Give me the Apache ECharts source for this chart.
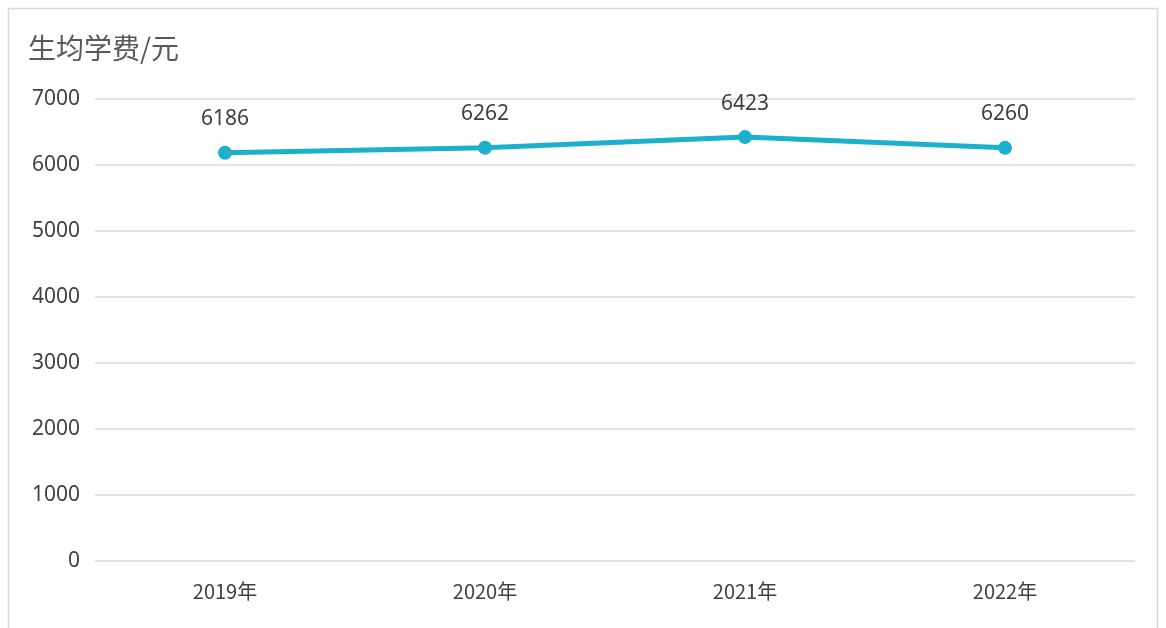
<!DOCTYPE html>
<html>
<head>
<meta charset="utf-8">
<script src="https://cdn.jsdelivr.net/npm/echarts@6/dist/echarts.min.js"></script>
<style>
  html, body { margin: 0; padding: 0; background: #ffffff; }
  #chart { width: 1166px; height: 628px; }
</style>
</head>
<body>
<div id="chart"></div>
<script>
// Per-student tuition by year
const titleText = '生均学费/元';
const years = ['2019年', '2020年', '2021年', '2022年'];
const tuition = [6186, 6262, 6423, 6260];
const yTicks = [0, 1000, 2000, 3000, 4000, 5000, 6000, 7000];

const chart = echarts.init(document.getElementById('chart'), null, { renderer: 'canvas' });

chart.setOption({
  backgroundColor: '#ffffff',
  animation: false,
  title: {
    text: titleText,
    left: 23,
    top: 29,
    textStyle: {
      fontFamily: '"Noto Sans CJK SC", sans-serif',
      fontSize: 28,
      fontWeight: 'normal',
      color: '#595959'
    }
  },
  graphic: [{
    type: 'rect',
    shape: { x: 8.5, y: 8.5, width: 1149, height: 640 },
    style: { fill: 'none', stroke: '#d9d9d9', lineWidth: 1.5 },
    silent: true
  }],
  grid: { left: 95, right: 31, top: 99, bottom: 67 },
  xAxis: {
    type: 'category',
    data: years,
    boundaryGap: true,
    axisLine: { show: false },
    axisTick: { show: false },
    axisLabel: {
      margin: 20,
      fontFamily: '"Noto Sans CJK SC", sans-serif',
      fontSize: 20,
      color: '#404040'
    }
  },
  yAxis: {
    type: 'value',
    min: yTicks[0],
    max: yTicks[yTicks.length - 1],
    interval: 1000,
    axisLine: { show: false },
    axisTick: { show: false },
    axisLabel: {
      margin: 15,
      formatter: (v) => String(v),
      fontFamily: '"Noto Sans", sans-serif',
      fontSize: 21,
      color: '#404040'
    },
    splitLine: { lineStyle: { color: '#d9d9d9', width: 1.5 } }
  },
  series: [{
    type: 'line',
    data: tuition,
    symbol: 'circle',
    symbolSize: 14,
    lineStyle: { color: '#1cb0cc', width: 5 },
    itemStyle: { color: '#1cb0cc' },
    label: {
      show: true,
      position: 'top',
      distance: 16,
      fontFamily: '"Noto Sans", sans-serif',
      fontSize: 21,
      color: '#404040'
    }
  }]
});
</script>
</body>
</html>
